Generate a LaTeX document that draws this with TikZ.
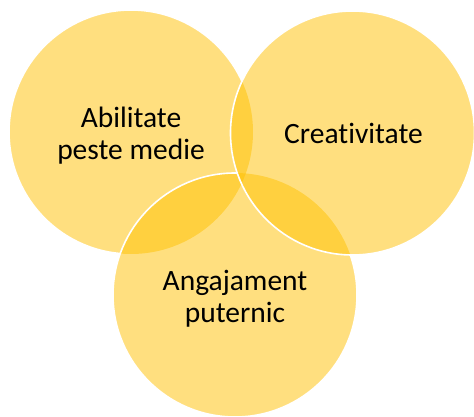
\documentclass[tikz,border=0pt]{standalone}
\usepackage{fontspec}
\setmainfont[Ligatures=NoCommon]{Carlito}
\definecolor{venn}{HTML}{FFC000}
\begin{document}
\begin{tikzpicture}[x=1pt,y=-1pt,
  setcircle/.style={circle, minimum size=244pt, inner sep=0pt, fill=venn,
    fill opacity=0.5},
  setlabel/.style={align=center, inner sep=0pt,
    font=\fontsize{29.5}{32}\selectfont},
  rim/.style={draw=white, line width=1.6pt}]
\useasboundingbox (0,0) rectangle (474,417);

% the three sets, painted in order
\node[setcircle] (abil) at (131,132) {};
\node[setcircle] (ang)  at (235,295) {};
\node[setcircle] (crea) at (352.5,133) {};

% white rims: a rim is hidden wherever a later set lies over it
\begin{scope}[even odd rule]
  \clip (-10,-10) rectangle (484,427) (crea.center) circle[radius=122];
  \begin{scope}[even odd rule]
    \clip (-10,-10) rectangle (484,427) (ang.center) circle[radius=122];
    \draw[rim] (abil.center) circle[radius=122];
  \end{scope}
  \draw[rim] (ang.center) circle[radius=122];
\end{scope}
\draw[rim] (crea.center) circle[radius=122];

% set names
\node[setlabel] (abiltext) at ([yshift=-3.5]abil.center) {Abilitate\\peste medie};
\node[setlabel] (angtext)  at ([yshift=-4]ang.center) {Angajament\\puternic};
\node[setlabel] (creatext) at ([xshift=1]crea.center) {Creativitate};
\end{tikzpicture}
\end{document}
